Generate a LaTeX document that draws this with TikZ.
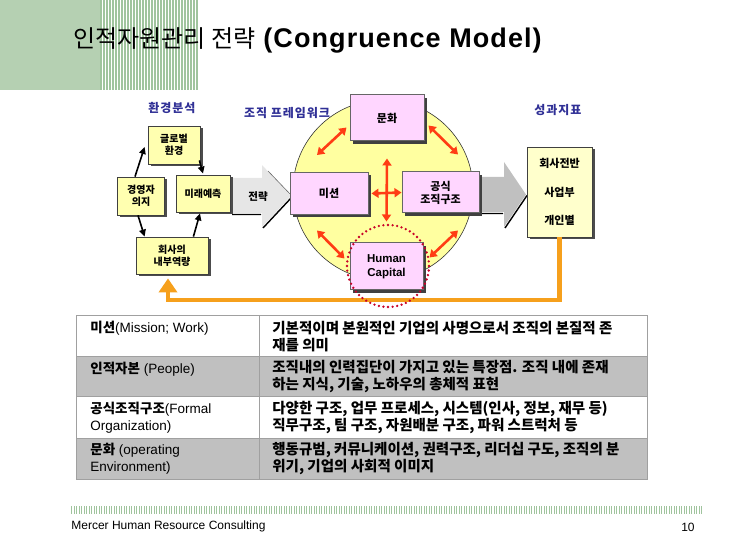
\documentclass[tikz,border=0pt]{standalone}
\usepackage{fontspec}
\setmainfont{Liberation Sans}
\newfontfamily\kr{Noto Sans CJK KR}
\newcommand\krb[1]{{\kr\bfseries #1}}
\usetikzlibrary{arrows.meta,shadows}
\definecolor{sage}{RGB}{181,208,178}
\definecolor{stripe}{RGB}{160,196,158}
\definecolor{envyellow}{RGB}{255,255,176}
\definecolor{kpiyellow}{RGB}{255,255,204}
\definecolor{orgpink}{RGB}{255,214,255}
\definecolor{framefill}{RGB}{255,255,160}
\definecolor{relred}{RGB}{255,60,20}
\definecolor{fborange}{RGB}{246,160,28}
\definecolor{ringred}{RGB}{200,0,40}
\definecolor{labelblue}{RGB}{48,48,150}
\definecolor{rowgray}{RGB}{192,192,192}
\definecolor{rulegray}{RGB}{160,160,160}
\definecolor{lightarrow}{RGB}{230,230,230}
\definecolor{darkarrow}{RGB}{192,192,192}
\begin{document}
\begin{tikzpicture}[x=1pt,y=-1pt,thick]
            %
            % `envbox' is used for the environment analysis boxes.
            % `orgbox' is used for the four parts of the organization.
            % `relation' is used for the red two-headed arrows.
            % `link' is used for the black arrows.
            % `feedback' is used for the orange line back to the start.
            % `ring' is used for the dotted circle.
            \tikzstyle{envbox} = [draw=black!75,line width=0.8pt,fill=envyellow,align=center,
                font=\kr\bfseries\fontsize{10pt}{12pt}\selectfont,
                drop shadow={shadow xshift=2.5pt,shadow yshift=-2.5pt,fill=black!70,opacity=1}]
            \tikzstyle{orgbox} = [draw=black!60,line width=1pt,fill=orgpink,align=center,
                font=\kr\bfseries\fontsize{11pt}{13pt}\selectfont,
                drop shadow={shadow xshift=3pt,shadow yshift=-3pt,fill=black!75,opacity=1}]
            \tikzstyle{tag} = [labelblue,font=\kr\bfseries\fontsize{12pt}{14pt}\selectfont\addfontfeature{LetterSpace=8}]
            \tikzstyle{relation} = [relred,line width=2.6pt,{Triangle[width=9pt,length=7pt]}-{Triangle[width=9pt,length=7pt]}]
            \tikzstyle{link} = [black,line width=1.6pt,-{Triangle[width=6.5pt,length=7pt]}]
            \tikzstyle{feedback} = [fborange,line width=4.5pt,-{Triangle[width=18pt,length=14pt]}]
            \tikzstyle{ring} = [draw=ringred,circle,line width=2.6pt,dash pattern=on 0pt off 4.6pt,line cap=round,minimum size=82pt]
            \tikzstyle{cell} = [anchor=west,align=left,inner sep=0pt,font=\fontsize{13.5pt}{17pt}\selectfont]
            \tikzstyle{note} = [anchor=west,align=left,inner sep=0pt,font=\kr\bfseries\fontsize{14.5pt}{17pt}\selectfont]
            \useasboundingbox (0,0) rectangle (756,540);
            %
            % Title
            \fill[sage] (0,0) rectangle (100,90);
            \foreach \x in {100,103,...,196} \fill[stripe] (\x,0) rectangle ++(1.5,90);
            \node[anchor=west,inner sep=0pt] (title) at (73,40)
                {{\kr\fontsize{24pt}{28pt}\selectfont 인적자원관리 전략}\hspace{8pt}{\bfseries\fontsize{27pt}{30pt}\selectfont\addfontfeature{LetterSpace=4}(Congruence Model)}};
            %
            % Headings
            \node[tag] (envtag) at (172,108) {환경분석};
            \node[tag] (orgtag) at (287,113) {조직 프레임워크};
            \node[tag] (kpitag) at (558,110) {성과지표};
            %
            % Organization frame
            \node[circle,draw=black!80,line width=0.6pt,fill=framefill,minimum size=180pt,inner sep=0pt] (frame) at (383,190) {};
            %
            % Block arrows
            \fill[lightarrow] (230,178) -- (262,178) -- (262,165) -- (291,196) -- (262,227) -- (262,213) -- (230,213) -- cycle;
            \draw[line width=1.4pt] (232,214.5) -- (261,214.5) (263,228) -- (292,197);
            \draw[line width=0.6pt,black!60] (268,171) -- (290,194);
            \node[font=\kr\bfseries\fontsize{10.5pt}{12pt}\selectfont] (strat) at (258,197) {전략};
            \fill[darkarrow] (480,177) -- (504,177) -- (504,162) -- (526,194.5) -- (504,227) -- (504,212) -- (480,212) -- cycle;
            \draw[line width=1.4pt] (482,213.5) -- (503,213.5) (505,228) -- (527,195.5);
            %
            % Environment analysis
            \node[envbox,minimum width=52pt,minimum height=38pt] (glob) at (174,145) {글로벌\\환경};
            \node[envbox,minimum width=47pt,minimum height=38pt] (will) at (141,196) {경영자\\의지};
            \node[envbox,minimum width=54pt,minimum height=37pt] (fore) at (203,193.5) {미래예측};
            \node[envbox,minimum width=72pt,minimum height=37pt] (cap) at (172,255.5) {회사의\\내부역량};
            \draw[link] ([shift={(-6,0)}]will.north) -- ([shift={(-3,2)}]glob.west);
            \draw[link] ([shift={(-1,-4)}]glob.south east) -- ([shift={(0,-1)}]fore.north);
            \draw[link] ([shift={(-3,0)}]will.south) -- ([shift={(9,0)}]cap.north west);
            \draw[link] ([shift={(-15,0)}]cap.north east) -- ([shift={(-3,1)}]fore.south);
            %
            % Organization framework
            \node[orgbox,minimum width=78pt,minimum height=42pt] (mission) at (329,193.5) {미션};
            \node[orgbox,minimum width=74pt,minimum height=46pt] (culture) at (387,118) {문화};
            \node[orgbox,minimum width=77pt,minimum height=41pt] (formal) at (440.5,192.5) {공식\\조직구조};
            \node[orgbox,minimum width=73pt,minimum height=47pt,font=\bfseries\fontsize{11.5pt}{13.5pt}\selectfont] (hc) at (386.5,266.5) {Human\\Capital};
            \draw[relation] ([shift={(-12,-17)}]mission.north) -- ([shift={(-3,-14)}]culture.south west);
            \draw[relation] ([shift={(4,-16)}]culture.south east) -- ([shift={(17.5,-17)}]formal.north);
            \draw[relation] ([shift={(-12,15.5)}]mission.south) -- ([shift={(-5,16)}]hc.north west);
            \draw[relation] ([shift={(6,15)}]hc.north east) -- ([shift={(17.5,17)}]formal.south);
            \draw[relation] ([shift={(0,17)}]culture.south) -- ([shift={(0,-21)}]hc.north);
            \draw[relation] ([shift={(3,0)}]mission.east) -- (formal.west);
            %
            % Performance indicators
            \node[envbox,fill=kpiyellow,minimum width=65pt,minimum height=90pt,
                font=\kr\bfseries\fontsize{11pt}{28.5pt}\selectfont] (kpi) at (559.5,192) {회사전반\\사업부\\개인별};
            \coordinate (fbturn) at (168,300);
            \draw[feedback] (kpi.south) |- (fbturn) -- ([shift={(-4,4)}]cap.south);
            \node[ring] (hcring) at (388,266) {};
            %
            % Table
            \fill[rowgray] (76,357) rectangle (647,397);
            \fill[rowgray] (76,438) rectangle (647,479);
            \draw[rulegray,line width=1pt] (76,316) rectangle (647,479);
            \draw[rulegray,line width=1pt] (76,357) -- (647,357) (76,397) -- (647,397) (76,438) -- (647,438) (259,316) -- (259,479);
            \node[cell] (work) at (90,328) {\krb{미션}(Mission; Work)};
            \node[cell] (people) at (90,369) {\krb{인적자본} (People)};
            \node[cell] (struct) at (90,417.5) {\krb{공식조직구조}(Formal\\Organization)};
            \node[cell] (climate) at (90,458.5) {\krb{문화} (operating\\Environment)};
            \node[note] (workdef) at (272,336.5) {기본적이며 본원적인 기업의 사명으로서 조직의 본질적 존\\재를 의미};
            \node[note] (peopledef) at (272,377) {조직내의 인력집단이 가지고 있는 특장점. 조직 내에 존재\\하는 지식, 기술, 노하우의 총체적 표현};
            \node[note] (structdef) at (272,417.5) {다양한 구조, 업무 프로세스, 시스템(인사, 정보, 재무 등)\\직무구조, 팀 구조, 자원배분 구조, 파워 스트럭처 등};
            \node[note] (climatedef) at (272,458.5) {행동규범, 커뮤니케이션, 권력구조, 리더십 구도, 조직의 분\\위기, 기업의 사회적 이미지};
            %
            % Footer
            \foreach \x in {71,73.5,...,702} \fill[stripe] (\x,506) rectangle ++(1.2,8);
            \node[anchor=west,inner sep=0pt,font=\fontsize{12pt}{14pt}\selectfont] (firm) at (71,526) {Mercer Human Resource Consulting};
            \node[anchor=east,inner sep=0pt,font=\fontsize{12pt}{14pt}\selectfont] (page) at (695,527) {10};
        \end{tikzpicture}
\end{document}
